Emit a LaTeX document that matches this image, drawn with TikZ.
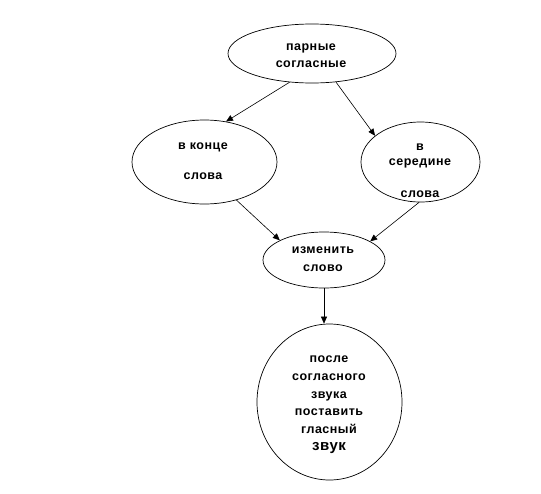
\documentclass[tikz,border=0pt]{standalone}
\usepackage{fontspec}
\setmainfont{Liberation Sans}[LetterSpace=4]
\usetikzlibrary{shapes.geometric,arrows.meta}
\tikzset{
  oval/.style={draw,ellipse,inner sep=0pt,line width=0.7pt},
  txt/.style={align=center,inner sep=0pt,font=\bfseries\fontsize{12.5}{17.5}\selectfont},
  arr/.style={line width=0.6pt,-{Triangle[length=7pt,width=6pt]},shorten >=0pt}
}
\begin{document}
\begin{tikzpicture}[x=1pt,y=-1pt]
\useasboundingbox (0,0) rectangle (541,493);
% ellipses
\node[oval,minimum width=168pt,minimum height=59pt] (top) at (312,53.5) {};
\node[oval,minimum width=145pt,minimum height=84pt] (left) at (204.5,162) {};
\node[oval,minimum width=119pt,minimum height=80pt] (right) at (420.5,162) {};
\node[oval,minimum width=122pt,minimum height=56pt] (mid) at (324,260) {};
\node[oval,minimum width=145pt,minimum height=156pt] (bot) at (329.5,402) {};
% texts
\node[txt] (ttop) at (311,55.5) {парные\\согласные};
\node[txt,font=\bfseries\fontsize{12.5}{15}\selectfont] (tleft) at (203,161) {в конце\\\mbox{}\\слова};
\node[txt,font=\bfseries\fontsize{12.5}{15.7}\selectfont] (tright) at (420,170.5) {в\\середине\\\mbox{}\\слова};
\node[txt,font=\bfseries\fontsize{12.5}{18}\selectfont] (tmid) at (323,259) {изменить\\слово};
\node[txt,font=\bfseries\fontsize{12.5}{17.6}\selectfont] (tbot) at (329,405) {после\\согласного\\звука\\поставить\\гласный\\{\fontsize{15}{18}\selectfont звук}};
% connectors
\draw[arr] (top.-128.7) -- (left.62);
\draw[arr] (top.-50.2) -- (right.150);
\draw[arr] (left.-50.5) -- (mid.156.8);
\draw[arr] (right.-92) -- (mid.22);
\draw[arr] (mid.south) -- (mid.south |- bot.north);
\end{tikzpicture}
\end{document}
